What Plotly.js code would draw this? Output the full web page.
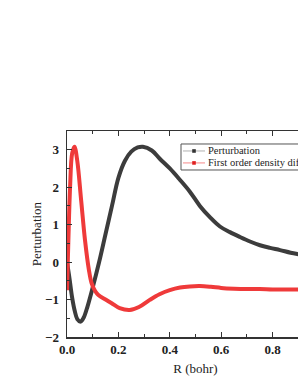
<!DOCTYPE html>
<html>
<head>
<meta charset="utf-8">
<script src="https://cdn.plot.ly/plotly-3.0.1.min.js"></script>
<style>
html,body{margin:0;padding:0;overflow:hidden;background:#fff;width:298px;height:385px;}
#chart{width:330px;height:385px;}
</style>
</head>
<body>
<div id="chart"></div>
<script>
// Perturbation (black curve)
const pertR = [0, 0.01, 0.02, 0.03, 0.04, 0.053, 0.065, 0.08, 0.1, 0.125, 0.15, 0.175, 0.2, 0.225, 0.25, 0.275, 0.295, 0.33, 0.361, 0.4, 0.439, 0.478, 0.517, 0.556, 0.595, 0.634, 0.673, 0.712, 0.751, 0.79, 0.829, 0.87, 0.9, 0.95, 1.0];
const pertV = [0, -0.45, -0.95, -1.3, -1.52, -1.59, -1.48, -1.18, -0.68, 0.0, 0.75, 1.5, 2.25, 2.7, 2.95, 3.06, 3.08, 2.98, 2.76, 2.5, 2.2, 1.88, 1.5, 1.2, 0.95, 0.8, 0.67, 0.55, 0.45, 0.38, 0.32, 0.25, 0.21, 0.15, 0.1];

// First order density difference (red curve)
const densR = [0, 0.005, 0.012, 0.02, 0.029, 0.04, 0.055, 0.07, 0.085, 0.096, 0.11, 0.122, 0.15, 0.174, 0.205, 0.244, 0.28, 0.322, 0.36, 0.4, 0.44, 0.478, 0.517, 0.56, 0.6, 0.65, 0.7, 0.75, 0.8, 0.85, 0.9, 0.95, 1.0];
const densV = [-0.75, 0.5, 2.0, 2.9, 3.08, 2.7, 1.65, 0.59, -0.2, -0.57, -0.78, -0.88, -1.0, -1.1, -1.23, -1.28, -1.2, -1.01, -0.86, -0.75, -0.68, -0.65, -0.64, -0.66, -0.69, -0.71, -0.72, -0.72, -0.73, -0.73, -0.73, -0.73, -0.73];

const seriesNames = ['Perturbation', 'First order density difference'];
const xTitle = 'R (bohr)';
const yTitle = 'Perturbation';

const serif = 'Liberation Serif, Times New Roman, serif';
const black = '#3c3c3c';
const red = '#ef3a3a';

const traces = [
  {x: pertR, y: pertV, name: seriesNames[0], mode: 'lines', line: {color: black, width: 4, shape: 'spline'}},
  {x: densR, y: densV, name: seriesNames[1], mode: 'lines', line: {color: red, width: 4, shape: 'spline'}}
];

// Legend drawn in paper coordinates (legend box like the original software's)
const legRows = [0.903, 0.845];
const legLine = ['#b0b0b0', '#f58a8a'];
const legMark = ['#333333', '#e02020'];
const shapes = [
  {type: 'rect', xref: 'paper', yref: 'paper', x0: 0.4436, x1: 1.3, y0: 0.8107, y1: 0.9369,
   line: {color: '#555', width: 1}, fillcolor: '#fff', layer: 'above'}
];
const annotations = [];
legRows.forEach((y, i) => {
  shapes.push({type: 'line', xref: 'paper', yref: 'paper', x0: 0.4514, x1: 0.537, y0: y, y1: y,
    line: {color: legLine[i], width: 1}, layer: 'above'});
  shapes.push({type: 'rect', xref: 'paper', yref: 'paper', xsizemode: 'pixel', ysizemode: 'pixel',
    xanchor: 0.4942, yanchor: y, x0: -1.8, x1: 1.8, y0: -1.8, y1: 1.8,
    line: {width: 0}, fillcolor: legMark[i], layer: 'above'});
  annotations.push({xref: 'paper', yref: 'paper', x: 0.5447, y: y, xanchor: 'left', yanchor: 'middle',
    text: seriesNames[i], showarrow: false, borderpad: 0,
    font: {family: serif, size: 10.5, color: '#222'}});
});

const axisCommon = {
  showgrid: false, zeroline: false, showline: true, linecolor: '#333', linewidth: 1.5,
  ticks: 'inside', ticklen: 5, tickwidth: 1, tickcolor: '#333', mirror: 'ticks',
  tickfont: {family: serif, size: 13, color: '#222', weight: 'bold'}
};

const layout = {
  width: 330, height: 385,
  margin: {l: 67, r: 6, t: 131, b: 48, autoexpand: false},
  paper_bgcolor: '#fff', plot_bgcolor: '#fff',
  font: {family: serif, color: '#222'},
  showlegend: false,
  shapes: shapes,
  annotations: annotations,
  xaxis: Object.assign({}, axisCommon, {
    range: [0, 1.0], dtick: 0.2, tickformat: '.1f',
    minor: {ticks: 'inside', ticklen: 3, dtick: 0.1, tickcolor: '#333'},
    title: {text: xTitle, font: {family: serif, size: 13, color: '#222'}, standoff: 8}
  }),
  yaxis: Object.assign({}, axisCommon, {
    range: [-2, 3.5], dtick: 1, ticklabelstandoff: 4,
    minor: {ticks: 'inside', ticklen: 3, dtick: 0.5, tickcolor: '#333'},
    title: {text: yTitle, font: {family: serif, size: 13, color: '#222'}, standoff: 0}
  })
};

Plotly.newPlot('chart', traces, layout, {displayModeBar: false, staticPlot: true});
</script>
</body>
</html>
